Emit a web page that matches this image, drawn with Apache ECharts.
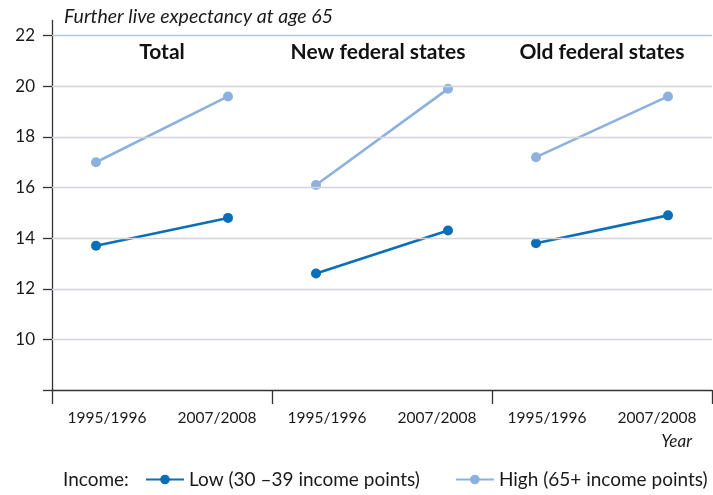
<!DOCTYPE html>
<html><head><meta charset="utf-8">
<script src="https://cdn.jsdelivr.net/npm/echarts@6/dist/echarts.min.js"></script>
<style>html,body{margin:0;padding:0;background:#fff}#c{width:713px;height:495px}</style>
</head><body><div id="c"></div>
<script>
// ---- data ----
const panels = ['Total', 'New federal states', 'Old federal states'];
const years = ['1995/1996', '2007/2008'];
const lowValues = [[13.7, 14.8], [12.6, 14.3], [13.8, 14.9]];
const highValues = [[17.0, 19.6], [16.1, 19.9], [17.2, 19.6]];
const yTickValues = [8, 10, 12, 14, 16, 18, 20, 22];
const yLabelValues = [10, 12, 14, 16, 18, 20, 22];
const gridValues = [10, 12, 14, 16, 18, 20];
const topGridValue = 22;
const lowName = 'Low (30 \u201339 income points)';
const highName = 'High (65+ income points)';
const yTitle = 'Further live expectancy at age 65';
const xName = 'Year';
const legendLead = 'Income:';

// ---- layout ----
const FONT = 'Lato';
const L = 52, R = 712, T = 20.5, B = 390;
const YMIN = 8, YMAX = 22.6;
const panelW = (R - L) / panels.length;
const COL_LOW = '#0a6fb7', COL_HIGH = '#8db1df';
const LEGEND_TOP = 470;

const xCats = [];
panels.forEach(() => years.forEach(y => xCats.push(y)));

const grids = [{left: L, top: T, width: R - L, height: B - T}];
const xAxes = [{
  type: 'category', gridIndex: 0, data: xCats, boundaryGap: true,
  axisLine: {lineStyle: {color: '#333', width: 1.3}},
  axisTick: {show: true, length: 14, interval: (i) => i % 2 === 0, lineStyle: {color: '#333', width: 1.3}},
  axisLabel: {color: '#1a1a1a', fontSize: 15.5, fontFamily: FONT, margin: 20, interval: 0},
  splitLine: {show: false}
}];
const yAxes = [{
  type: 'value', gridIndex: 0, min: YMIN, max: YMAX,
  axisLine: {show: true, lineStyle: {color: '#333', width: 1.3}},
  axisTick: {show: true, length: 9, customValues: yTickValues, lineStyle: {color: '#333', width: 1.3}},
  axisLabel: {customValues: yLabelValues, color: '#1a1a1a', fontSize: 17, fontFamily: FONT, margin: 17},
  splitLine: {show: false}
}];
const series = [{
  type: 'line', xAxisIndex: 0, yAxisIndex: 0, data: [], silent: true,
  markLine: {
    silent: true, symbol: 'none', label: {show: false},
    data: gridValues.map(v => ({yAxis: v, lineStyle: {color: '#d2d3db', width: 1.3, type: 'solid'}}))
      .concat([{yAxis: topGridValue, lineStyle: {color: '#b5c6e2', width: 1.3, type: 'solid'}}])
  }
}];

panels.forEach((p, i) => {
  const gi = i + 1;
  grids.push({left: L + panelW * i + panelW * 0.2, top: T, width: panelW * 0.6, height: B - T});
  xAxes.push({type: 'category', gridIndex: gi, data: years, boundaryGap: false, show: false});
  yAxes.push({type: 'value', gridIndex: gi, min: YMIN, max: YMAX, show: false, splitLine: {show: false}});
  series.push({
    name: highName, type: 'line', xAxisIndex: gi, yAxisIndex: gi, data: highValues[i],
    symbol: 'circle', symbolSize: 10, color: COL_HIGH,
    lineStyle: {color: COL_HIGH, width: 2.6}, itemStyle: {color: COL_HIGH}, z: 3
  });
  series.push({
    name: lowName, type: 'line', xAxisIndex: gi, yAxisIndex: gi, data: lowValues[i],
    symbol: 'circle', symbolSize: 10, color: COL_LOW,
    lineStyle: {color: COL_LOW, width: 2.6}, itemStyle: {color: COL_LOW}, z: 3
  });
});

const titles = [{
  text: yTitle, left: 64, top: 7, padding: 0,
  textStyle: {fontFamily: FONT, fontStyle: 'italic', fontWeight: 'normal', fontSize: 19.5, color: '#1a1a1a'}
}];
panels.forEach((p, i) => {
  titles.push({
    text: p, left: L + panelW * i + panelW / 2 - (i === 1 ? 4 : 0), top: 42, textAlign: 'center', padding: 0,
    textStyle: {fontFamily: FONT, fontWeight: 'bold', fontSize: 21, color: '#111'}
  });
});
titles.push({
  text: xName, left: 692, top: 433, textAlign: 'right', padding: 0,
  textStyle: {fontFamily: FONT, fontStyle: 'italic', fontWeight: 'normal', fontSize: 17, color: '#1a1a1a'}
});
titles.push({
  text: legendLead, left: 63, top: LEGEND_TOP, padding: 0,
  textStyle: {fontFamily: FONT, fontWeight: 'normal', fontSize: 19, color: '#1a1a1a'}
});

const chart = echarts.init(document.getElementById('c'), null, {renderer: 'canvas'});
chart.setOption({
  animation: false,
  backgroundColor: '#fff',
  title: titles,
  grid: grids,
  xAxis: xAxes,
  yAxis: yAxes,
  legend: {
    data: [lowName, highName], left: 145, top: LEGEND_TOP, padding: 0, itemWidth: 38, itemHeight: 12, itemGap: 35,
    textStyle: {fontFamily: FONT, fontSize: 19, color: '#1a1a1a'}
  },
  series: series
});
</script></body></html>
